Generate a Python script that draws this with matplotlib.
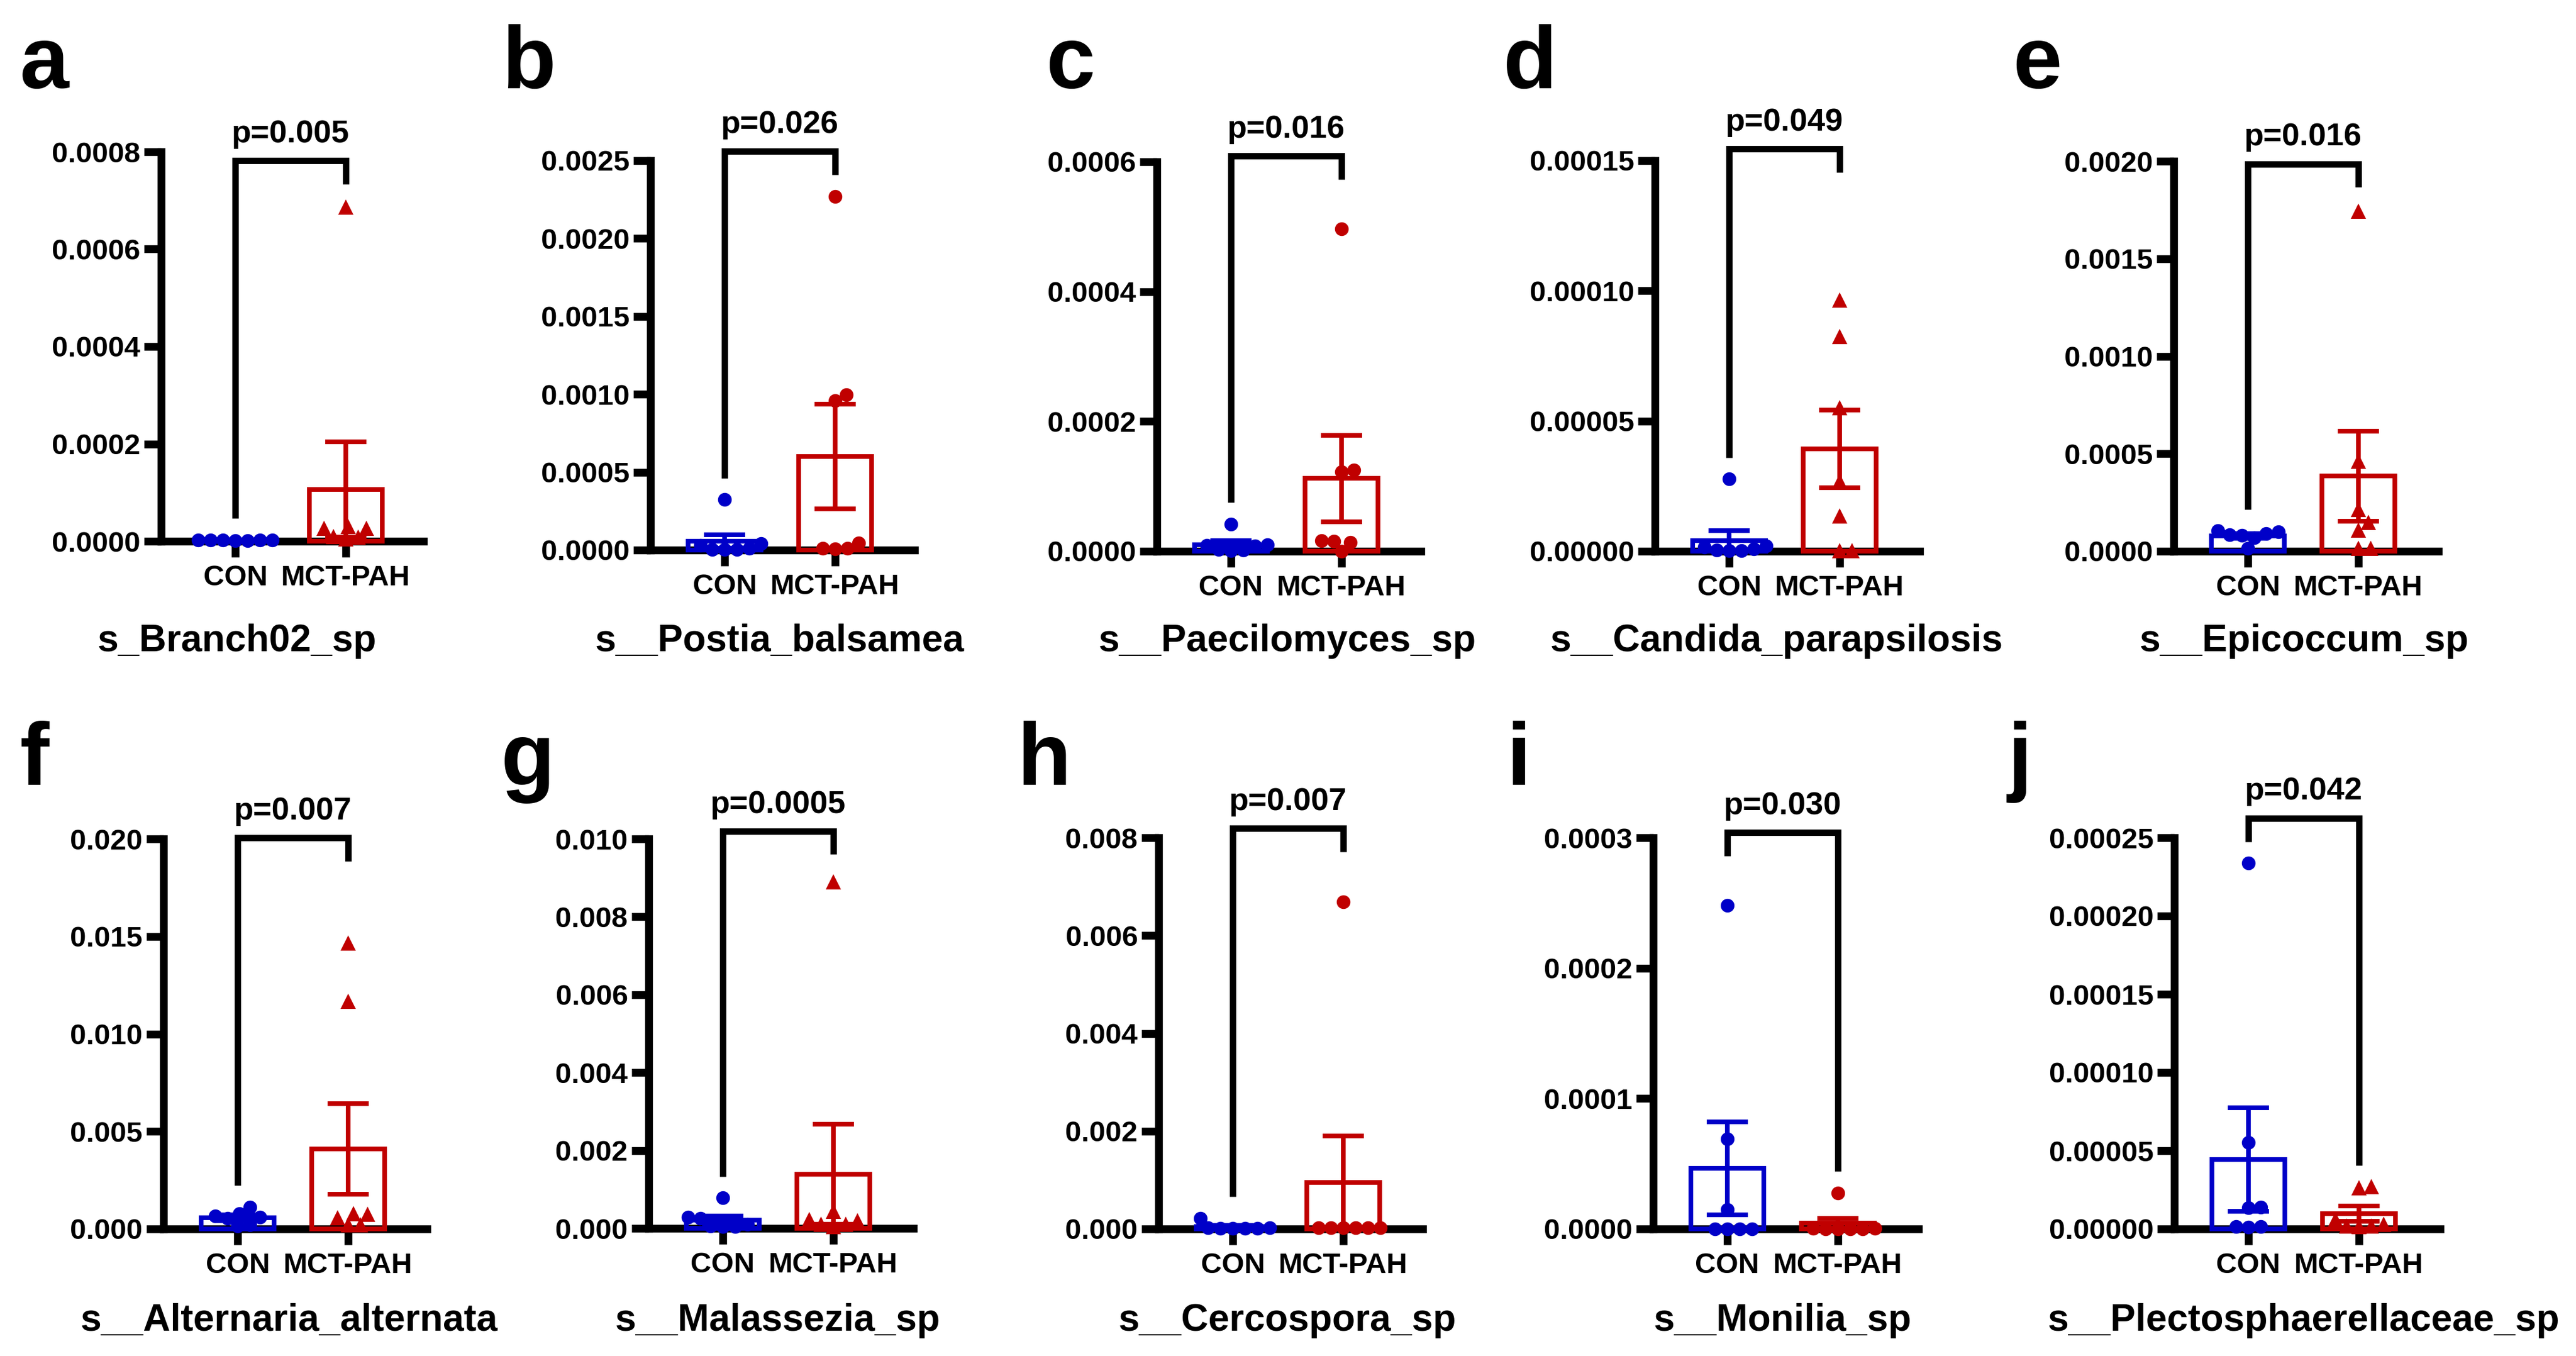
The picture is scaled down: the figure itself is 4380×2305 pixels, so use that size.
import numpy as np
import matplotlib
matplotlib.use('Agg')
import matplotlib.pyplot as plt

plt.rcParams['font.family'] = ['Liberation Sans', 'DejaVu Sans']
plt.rcParams['font.weight'] = 'bold'

# ---- data ----
letters = list('abcdefghij')
names = ['s_Branch02_sp', 's__Postia_balsamea', 's__Paecilomyces_sp',
         's__Candida_parapsilosis', 's__Epicoccum_sp', 's__Alternaria_alternata',
         's__Malassezia_sp', 's__Cercospora_sp', 's__Monilia_sp',
         's__Plectosphaerellaceae_sp']
groups = ['CON', 'MCT-PAH']
p_values = ['0.005', '0.026', '0.016', '0.049', '0.016',
            '0.007', '0.0005', '0.007', '0.030', '0.042']
y_max = [0.0008, 0.0025, 0.0006, 0.00015, 0.0020,
         0.020, 0.010, 0.008, 0.0003, 0.00025]
y_step = [0.0002, 0.0005, 0.0002, 0.00005, 0.0005,
          0.005, 0.002, 0.002, 0.0001, 0.00005]
y_decimals = [4, 4, 4, 5, 4, 3, 3, 3, 4, 5]

con_mean = [0.000002, 0.000055, 0.000010, 0.000004, 0.000078,
            0.00058, 0.00021, 0.000043, 0.0000465, 0.0000443]
con_sem = [0.000001, 0.000045, 0.000006, 0.0000038, 0.000011,
           0.00015, 0.0001, 0.00003, 0.0000355, 0.0000332]
mct_mean = [0.000106, 0.000601, 0.000112, 0.0000393, 0.000385,
            0.00411, 0.00139, 0.00095, 0.0000043, 0.0000097]
mct_sem = [0.000098, 0.000335, 0.000067, 0.0000149, 0.00023,
           0.00233, 0.00128, 0.00095, 0.000004, 0.000005]

con_points = [
    [0.000002, 0.000001, 0.000003, 0.000002, 0.000001, 0.000002, 0.000003],
    [0.000324, 0.000040, 0.000030, 0.000010, 0.000005, 0.000003, 0.000003],
    [0.000042, 0.000010, 0.000009, 0.000008, 0.000003, 0.000002, 0.000001],
    [0.0000277, 0.000002, 0.0000015, 0.000001, 0.0000005, 0.0000003, 0.0000002],
    [0.000105, 0.000100, 0.000090, 0.000085, 0.000080, 0.000070, 0.000015],
    [0.00112, 0.00078, 0.00065, 0.00060, 0.00055, 0.00020, 0.00015],
    [0.00078, 0.00028, 0.00025, 0.00010, 0.00006, 0.00005, 0.00004],
    [0.00022, 0.00002, 0.00002, 0.00001, 0.00001, 0.00001, 0.00001],
    [0.000248, 0.0000688, 0.000015, 0.0, 0.0, 0.0, 0.0],
    [0.000234, 0.0000554, 0.0000140, 0.0000136, 0.0000015, 0.0000014, 0.0000012],
]
mct_points = [
    [0.000687, 0.000027, 0.000030, 0.000027, 0.000008, 0.000005, 0.000010],
    [0.00227, 0.000997, 0.00096, 0.000047, 0.000012, 0.00001, 0.000008],
    [0.000497, 0.000125, 0.000122, 0.000016, 0.000015, 0.000014, 0.0],
    [0.0000964, 0.0000824, 0.0000552, 0.0000268, 0.0000136, 0.0000003, 0.0000002],
    [0.001745, 0.000462, 0.000215, 0.000148, 0.000108, 0.000015, 0.000015],
    [0.01467, 0.01167, 0.00078, 0.00075, 0.00056, 0.00022, 0.00020],
    [0.00889, 0.00044, 0.00022, 0.00020, 0.00011, 0.00010, 0.00005],
    [0.00669, 0.00002, 0.00002, 0.00002, 0.00002, 0.00002, 0.00002],
    [0.0000276, 0.0000005, 0.0000003, 0.0000002, 0.0000001, 0.0, 0.0],
    [0.0000270, 0.0000265, 0.0000060, 0.0000030, 0.0000020, 0.0000020, 0.0000015],
]

# ---- style / layout (pixels of the 4380x2305 canvas) ----
mct_marker = ['^', 'o', 'o', '^', '^', '^', '^', 'o', 'o', '^']
blue = '#0000c8'
red = '#c00000'
W, H, DPI = 4380, 2305, 300
UNIT = 188.0          # px between CON and MCT-PAH
AX_H = 663.0          # px height of y axis
# y-axis x, x-axis end, zero line y, top tick y
boxes = [(274, 720, 920, 258), (1106, 1555, 935, 273), (1967, 2416, 937, 275),
         (2814, 3264, 937, 273), (3696, 4146, 937, 274),
         (278, 726, 2089, 1426), (1103, 1553, 2088, 1426), (1970, 2419, 2089, 1424),
         (2811, 3262, 2089, 1424), (3697, 4149, 2089, 1424)]
bracket_top = [0.977, 1.024, 1.015, 1.03, 0.993, 1.003, 1.02, 1.024, 1.013, 1.05]
letter_pos = [(34, 150), (853, 150), (1778, 150), (2556, 150), (3422, 150),
              (33, 1334), (852, 1334), (1730, 1334), (2562, 1334), (3413, 1334)]
title_pos = [(403, 1107), (1326, 1107), (2189, 1107), (3021, 1107), (3918, 1107),
             (492, 2262), (1322, 2262), (2189, 2262), (3031, 2262), (3917, 2262)]


def swarm(vals, ymax, d=21.0):
    ys = np.asarray(vals) / ymax * AX_H
    xs = np.zeros(len(ys))
    steps = np.arange(1, 300)
    cand = np.concatenate([[0.0], np.ravel(np.column_stack([steps, -steps]))])
    placed = []
    for i in np.argsort(ys):
        for c in cand:
            if all((c - px) ** 2 + (ys[i] - py) ** 2 >= d * d for px, py in placed):
                xs[i] = c
                placed.append((c, ys[i]))
                break
    return xs / UNIT


fig = plt.figure(figsize=(W / DPI, H / DPI), dpi=DPI)

for i in range(10):
    x0, x1, y0, y1 = boxes[i]
    ax = fig.add_axes([x0 / W, 1 - y0 / H, (x1 - x0) / W, (y0 - y1) / H])
    ymax = y_max[i]
    ax.set_xlim(-126 / UNIT, -126 / UNIT + (x1 - x0) / UNIT)
    ax.set_ylim(0, ymax)

    means = [con_mean[i], mct_mean[i]]
    sems = [con_sem[i], mct_sem[i]]
    cols = [blue, red]
    for k in range(2):
        ax.bar(k, means[k], width=0.66, fill=False, edgecolor=cols[k],
               linewidth=1.9, zorder=3, clip_on=False)
        ax.errorbar(k, means[k], yerr=sems[k], fmt='none', ecolor=cols[k],
                    elinewidth=1.9, capsize=8.5, capthick=1.9, zorder=4, clip_on=False)
    pts = [con_points[i], mct_points[i]]
    marks = ['o', mct_marker[i]]
    for k in range(2):
        off = swarm(pts[k], ymax)
        ax.plot(k + off, pts[k], linestyle='none', marker=marks[k],
                ms=5.6 if marks[k] == 'o' else 6.4, color=cols[k],
                markeredgewidth=0, zorder=5, clip_on=False)

    # significance bracket
    top = bracket_top[i] * ymax
    cmax, mmax = max(con_points[i]), max(mct_points[i])
    if mmax >= cmax:
        lf, rf = cmax + 0.055 * ymax, top - 0.06 * ymax
    else:
        lf, rf = top - 0.06 * ymax, mmax + 0.055 * ymax
    ax.plot([0, 0, 1, 1], [lf, top, top, rf], color='black', lw=2.6,
            clip_on=False, solid_joinstyle='miter', solid_capstyle='butt', zorder=6)
    ax.annotate('p=' + p_values[i], xy=(0.5, top), xytext=(0, 7.5),
                textcoords='offset points', ha='center', va='baseline',
                fontsize=13, fontweight='bold', annotation_clip=False)

    ticks = np.arange(0, ymax + y_step[i] / 2, y_step[i])
    ax.set_yticks(ticks)
    ax.set_yticklabels([f'{t:.{y_decimals[i]}f}' for t in ticks])
    ax.set_xticks([0, 1])
    ax.set_xticklabels(groups)
    for s in ['top', 'right']:
        ax.spines[s].set_visible(False)
    for s in ['left', 'bottom']:
        ax.spines[s].set_linewidth(3.2)
    ax.tick_params(axis='y', width=3.2, length=7, pad=1.5, labelsize=11.8)
    ax.tick_params(axis='x', width=3.2, length=6.5, pad=3, labelsize=11.8)
    ax.patch.set_visible(False)

    lx, ly = letter_pos[i]
    fig.text(lx / W, 1 - ly / H, letters[i], fontsize=36, fontweight='bold',
             ha='left', va='baseline')
    tx, ty = title_pos[i]
    fig.text(tx / W, 1 - ty / H, names[i], fontsize=15.4, fontweight='bold',
             ha='center', va='baseline')

fig.savefig('out.png', dpi=DPI)
